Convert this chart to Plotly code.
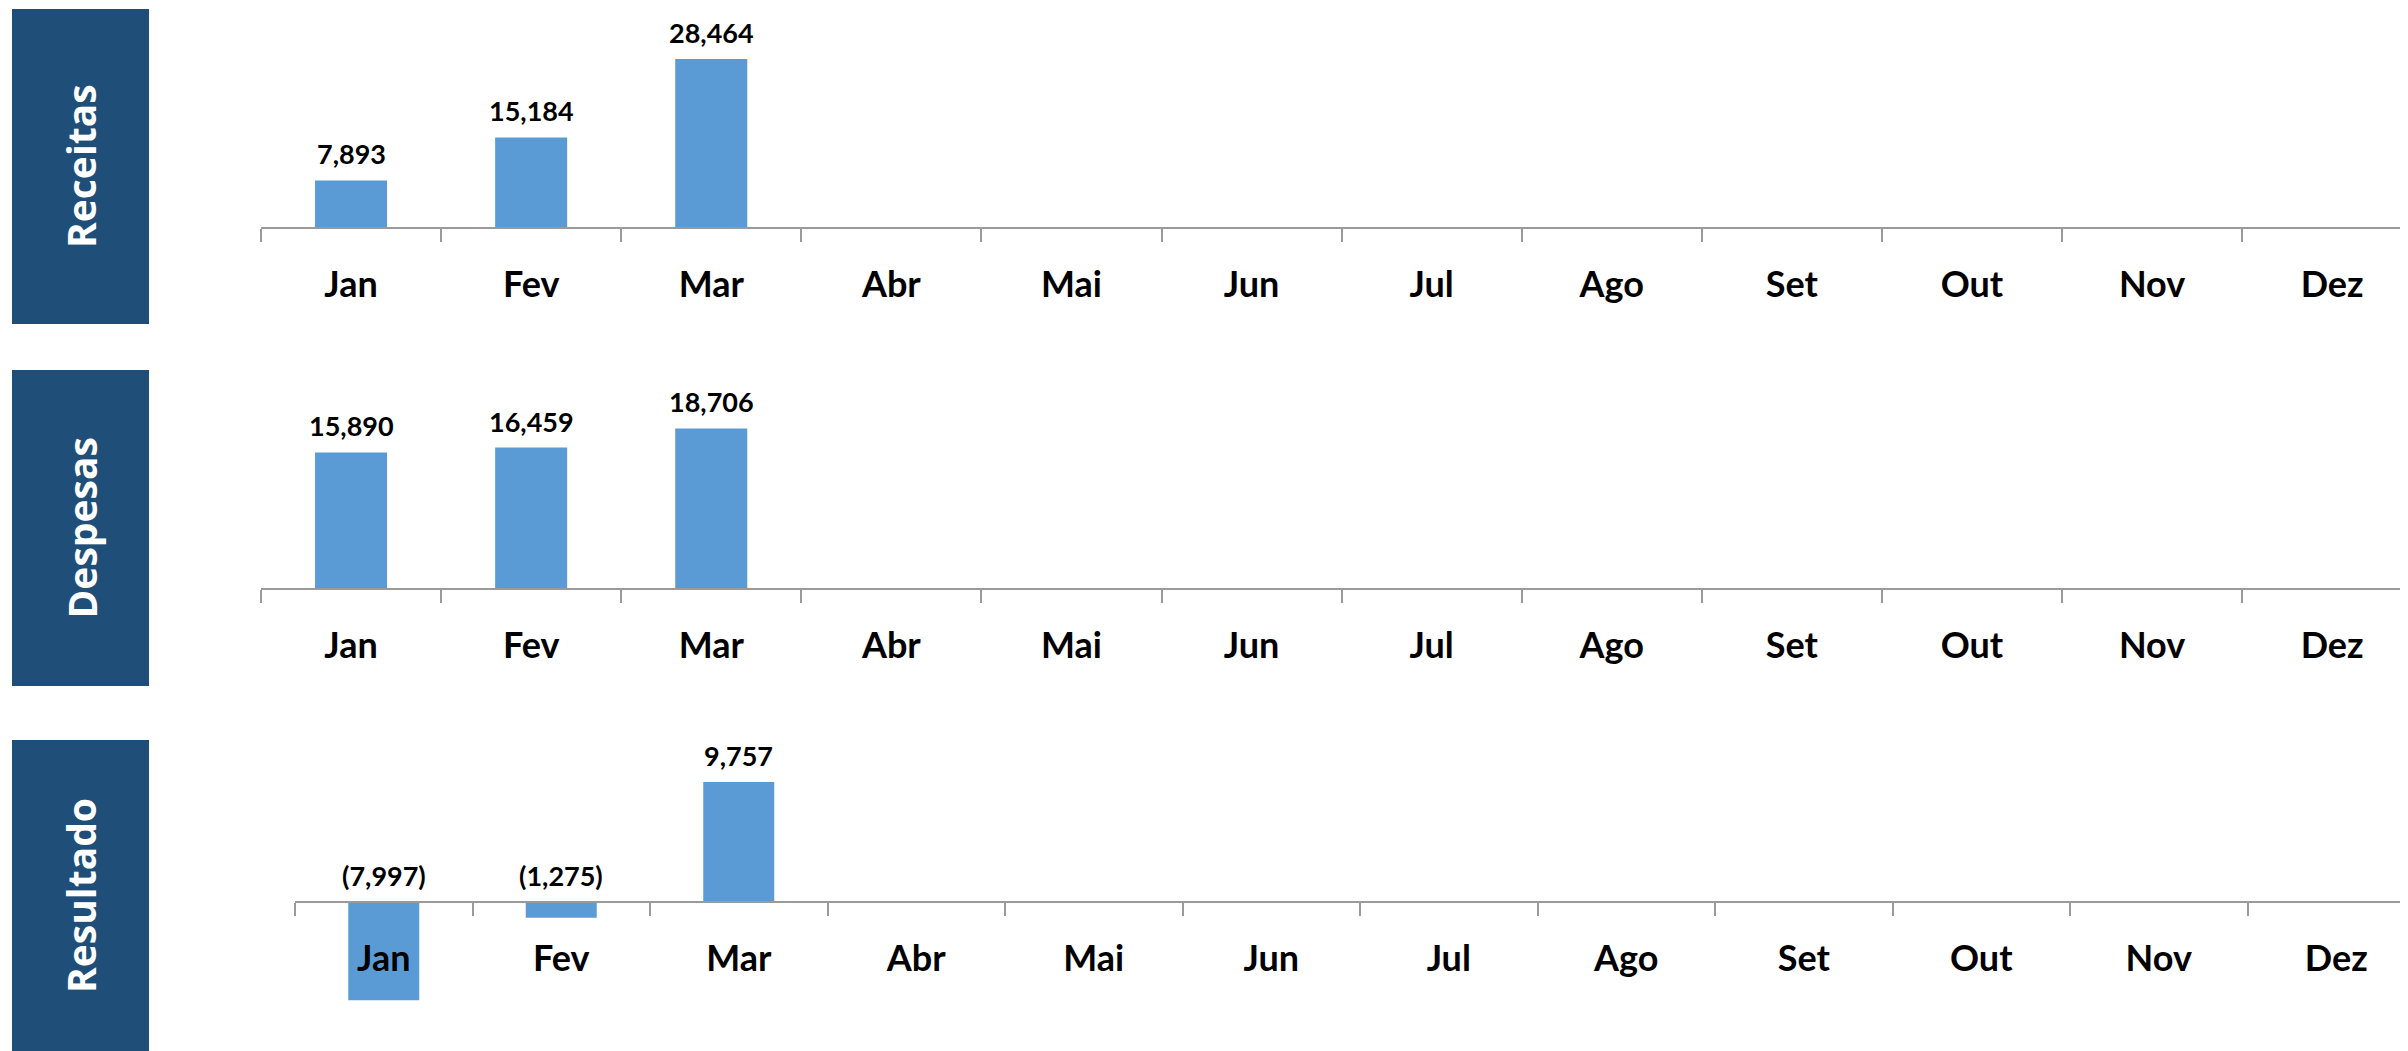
import plotly.graph_objects as go

# ---------------- data ----------------
months = ['Jan', 'Fev', 'Mar', 'Abr', 'Mai', 'Jun', 'Jul', 'Ago', 'Set', 'Out', 'Nov', 'Dez']
receitas = [7893, 15184, 28464]
despesas = [15890, 16459, 18706]
resultado = [-7997, -1275, 9757]
panel_titles = ['Receitas', 'Despesas', 'Resultado']

# ---------------- layout helpers ----------------
OFF = 8                      # the page body margin that shifts the figure
W, H = 2408 - OFF, 1051 - OFF
BAR = '#5B9BD5'
NAVY = '#1F4E79'
AXIS = '#9A9A9A'
LABEL_FONT = 'Lato, Carlito, Calibri, sans-serif'


def fy(px):
    return 1 - (px - OFF) / H


def fx(px):
    return (px - OFF) / W


def fmt(v):
    s = f'{abs(v):,}'
    return f'({s})' if v < 0 else s


# pixel layout of each panel in screen pixels
panels = [
    dict(x0=261, cat=180.1, zero=227, top=15, bottom=227, scale=0.0059, box=(12, 149, 9, 324)),
    dict(x0=261, cat=180.1, zero=588, top=380, bottom=588, scale=0.00853, box=(12, 149, 370, 686)),
    dict(x0=295, cat=177.5, zero=902, top=745, bottom=1051, scale=0.0123, box=(12, 149, 740, 1051)),
]
series = [receitas, despesas, resultado]

fig = go.Figure()
shapes = []
annotations = []

for i, (p, vals, title) in enumerate(zip(panels, series, panel_titles)):
    n = i + 1
    xa = 'x' if n == 1 else f'x{n}'
    ya = 'y' if n == 1 else f'y{n}'
    yvals = list(vals) + [None] * (len(months) - len(vals))
    fig.add_trace(go.Bar(
        x=months, y=yvals, xaxis=xa, yaxis=ya,
        marker=dict(color=BAR, line=dict(width=0)),
        hoverinfo='skip', showlegend=False,
    ))
    # data labels
    for m, v in zip(months, vals):
        annotations.append(dict(
            x=m, y=max(v, 0), xref=xa, yref=ya, text=fmt(v), showarrow=False,
            yanchor='bottom', xanchor='center', yshift=8,
            font=dict(family=LABEL_FONT, size=27, color='#000000', weight='bold'),
        ))
    # axes
    ymin = -(p['bottom'] - p['zero']) / p['scale']
    ymax = (p['zero'] - p['top']) / p['scale']
    xaxis = dict(
        domain=[fx(p['x0']), 1], range=[-0.5, -0.5 + (2408 - p['x0']) / p['cat']],
        type='category', categoryorder='array', categoryarray=months,
        showline=True, linecolor=AXIS, linewidth=1.5,
        ticks='outside', tickson='boundaries', ticklen=13, tickcolor=AXIS, tickwidth=1.5,
        ticklabelstandoff=25,
        tickfont=dict(family=LABEL_FONT, size=36, color='#000000', weight='bold'),
        showgrid=False, zeroline=False, fixedrange=True,
    )
    if n == 3:
        xaxis.update(anchor='free', position=fy(p['zero']))
    else:
        xaxis.update(anchor=ya)
    yaxis = dict(
        domain=[max(fy(p['bottom']), 0), fy(p['top'])], range=[ymin, ymax], anchor=xa,
        visible=False, showgrid=False, zeroline=False, fixedrange=True,
    )
    fig.update_layout(**{('xaxis' if n == 1 else f'xaxis{n}'): xaxis,
                         ('yaxis' if n == 1 else f'yaxis{n}'): yaxis})
    # navy title box
    bx0, bx1, by0, by1 = p['box']
    shapes.append(dict(type='rect', xref='paper', yref='paper',
                       x0=fx(bx0), x1=fx(bx1), y0=max(fy(by1), 0), y1=fy(by0),
                       fillcolor=NAVY, line=dict(width=0), layer='below'))
    annotations.append(dict(
        x=fx((bx0 + bx1) / 2), y=fy((by0 + by1) / 2), xref='paper', yref='paper',
        text=title, textangle=-90, showarrow=False, xanchor='center', yanchor='middle',
        font=dict(family='Open Sans, Segoe UI, sans-serif', size=39, color='#FFFFFF', weight='bold'),
    ))

fig.update_layout(
    width=W, height=H, margin=dict(l=0, r=0, t=0, b=0, pad=0),
    paper_bgcolor='#FFFFFF', plot_bgcolor='#FFFFFF',
    bargap=0.6, shapes=shapes, annotations=annotations, showlegend=False,
)

fig.write_html('out.html', config={'displayModeBar': False})
